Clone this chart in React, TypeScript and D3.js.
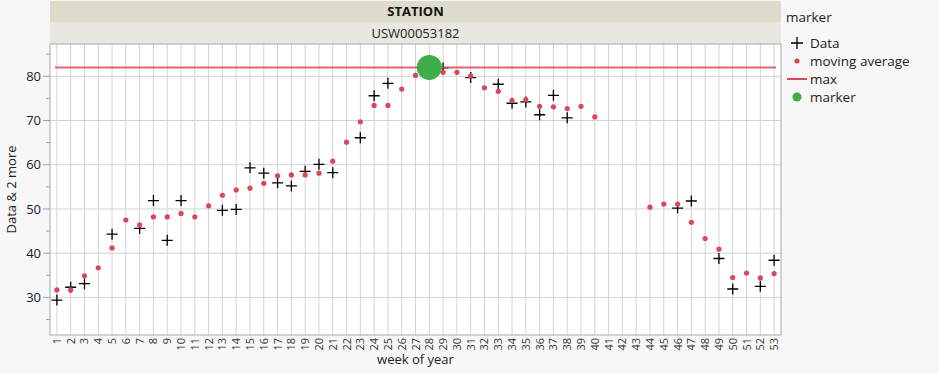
import { max, scaleLinear, scalePoint } from 'd3'
import { useEffect } from 'react'

const weeks = Array.from({ length: 53 }, (_, i) => String(i + 1))

// weekly observations, null where the week has no value
const dataValues: (number | null)[] = [
  29.4, 32.3, 33.1, null, 44.3, null, 45.6, 51.9, 42.9, 51.9,
  null, null, 49.7, 49.9, 59.3, 58.1, 55.9, 55.2, 58.5, 60.1,
  58.2, null, 66.1, 75.6, 78.4, null, null, 82.0, 81.9, null,
  79.7, null, 78.2, 73.9, 74.2, 71.3, 75.7, 70.6, null, null,
  null, null, null, null, null, 50.2, 51.8, null, 38.8, 31.9,
  null, 32.5, 38.4,
]

const movingAverage: (number | null)[] = [
  31.7, 31.7, 34.9, 36.7, 41.2, 47.5, 46.4, 48.2, 48.2, 49.0,
  48.2, 50.7, 53.1, 54.3, 54.7, 55.8, 57.5, 57.7, 57.7, 58.1,
  60.8, 65.1, 69.7, 73.4, 73.4, 77.1, 80.2, 81.6, 80.9, 80.9,
  80.1, 77.4, 76.6, 74.5, 74.7, 73.2, 73.1, 72.7, 73.2, 70.8,
  null, null, null, 50.4, 51.1, 51.1, 47.0, 43.3, 40.9, 34.5,
  35.5, 34.4, 35.4,
]

const yTicks = [30, 40, 50, 60, 70, 80]
const yMinorTicks = [25, 35, 45, 55, 65, 75, 85]
const legendItems = ['Data', 'moving average', 'max', 'marker']

const width = 939
const height = 374
const plot = { left: 50, right: 781, top: 44, bottom: 335 }
const font = '"Open Sans", "Noto Sans", sans-serif'
const red = '#d9485a'
const green = '#3fae49'

const App = () => {
  useEffect(() => {
    document.body.style.margin = '0'
    document.body.style.background = '#f7f7f7'
  }, [])

  const x = scalePoint<string>().domain(weeks).range([plot.left, plot.right]).padding(0.5)
  const y = scaleLinear().domain([21.5, 87.3]).range([plot.bottom, plot.top])

  const maxValue = max(dataValues, (d) => d ?? undefined) ?? 0
  const maxWeek = weeks[dataValues.indexOf(maxValue)]

  return (
    <svg width={width} height={height} style={{ display: 'block', background: '#f7f7f7', fontFamily: font }}>
      {/* header */}
      <rect x={plot.left} y={1} width={plot.right - plot.left} height={21} fill="#dcdbcc" />
      <rect x={plot.left} y={22} width={plot.right - plot.left} height={22} fill="#e8e8e0" />
      <text x={(plot.left + plot.right) / 2} y={16} textAnchor="middle" fontSize={13} fontWeight="bold" fill="#111">
        STATION
      </text>
      <text x={(plot.left + plot.right) / 2} y={38} textAnchor="middle" fontSize={13} fill="#222">
        USW00053182
      </text>

      <rect x={plot.left} y={plot.top} width={plot.right - plot.left} height={plot.bottom - plot.top} fill="#fff" />

      {/* grid */}
      {weeks.map((w) => (
        <line key={w} x1={x(w)} x2={x(w)} y1={plot.top} y2={plot.bottom} stroke="#d3d3d3" strokeWidth={1} />
      ))}
      {yTicks.map((t) => (
        <line key={t} x1={plot.left} x2={plot.right} y1={y(t)} y2={y(t)} stroke="#d3d3d3" strokeWidth={1} />
      ))}

      {/* frame */}
      <rect
        x={plot.left}
        y={plot.top}
        width={plot.right - plot.left}
        height={plot.bottom - plot.top}
        fill="none"
        stroke="#a8a8a8"
      />

      {/* y axis */}
      {yTicks.map((t) => (
        <g key={t}>
          <line x1={plot.left - 7} x2={plot.left} y1={y(t)} y2={y(t)} stroke="#a0a0a0" />
          <text x={plot.left - 9} y={y(t)} dy="0.35em" textAnchor="end" fontSize={13} fill="#1a1a2e">
            {t}
          </text>
        </g>
      ))}
      {yMinorTicks.map((t) => (
        <line key={t} x1={plot.left - 4} x2={plot.left} y1={y(t)} y2={y(t)} stroke="#a0a0a0" />
      ))}
      <text
        transform={`translate(16, ${(plot.top + plot.bottom) / 2}) rotate(-90)`}
        textAnchor="middle"
        fontSize={13}
        fill="#222"
      >
        Data &amp; 2 more
      </text>

      {/* x axis */}
      {weeks.map((w) => (
        <text
          key={w}
          transform={`translate(${(x(w) ?? 0) + 4}, ${plot.bottom + 3}) rotate(-90)`}
          textAnchor="end"
          fontSize={11}
          fill="#333"
        >
          {w}
        </text>
      ))}
      <text x={(plot.left + plot.right) / 2} y={364} textAnchor="middle" fontSize={13} fill="#222">
        week of year
      </text>

      {/* data */}
      {dataValues.map((v, i) => {
        if (v == null) return null
        const cx = x(weeks[i]) ?? 0
        const cy = y(v)
        return (
          <path key={i} d={`M${cx - 5.5},${cy}H${cx + 5.5}M${cx},${cy - 5.5}V${cy + 5.5}`} stroke="#000" strokeWidth={1.3} />
        )
      })}

      {/* moving average */}
      {movingAverage.map((v, i) =>
        v == null ? null : <circle key={i} cx={x(weeks[i])} cy={y(v)} r={2.6} fill={red} />,
      )}

      {/* max line */}
      <line
        x1={plot.left + 5}
        x2={plot.right - 5}
        y1={y(maxValue)}
        y2={y(maxValue)}
        stroke={red}
        strokeOpacity={0.85}
        strokeWidth={2}
      />

      {/* marker */}
      <circle cx={x(maxWeek)} cy={y(maxValue)} r={12.5} fill={green} />

      {/* legend */}
      <text x={786} y={22} fontSize={13.5} fill="#222">
        marker
      </text>
      {legendItems.map((label, i) => {
        const ly = 43 + i * 18
        return (
          <g key={label}>
            {i === 0 && <path d={`M${791},${ly}H${803}M${797},${ly - 6}V${ly + 6}`} stroke="#000" strokeWidth={1.3} />}
            {i === 1 && <circle cx={797} cy={ly} r={2.6} fill={red} />}
            {i === 2 && <line x1={787} x2={807} y1={ly} y2={ly} stroke={red} strokeWidth={2} />}
            {i === 3 && <circle cx={797} cy={ly} r={4.5} fill={green} />}
            <text x={810} y={ly} dy="0.35em" fontSize={13.5} fill="#222">
              {label}
            </text>
          </g>
        )
      })}
    </svg>
  )
}

export default App
